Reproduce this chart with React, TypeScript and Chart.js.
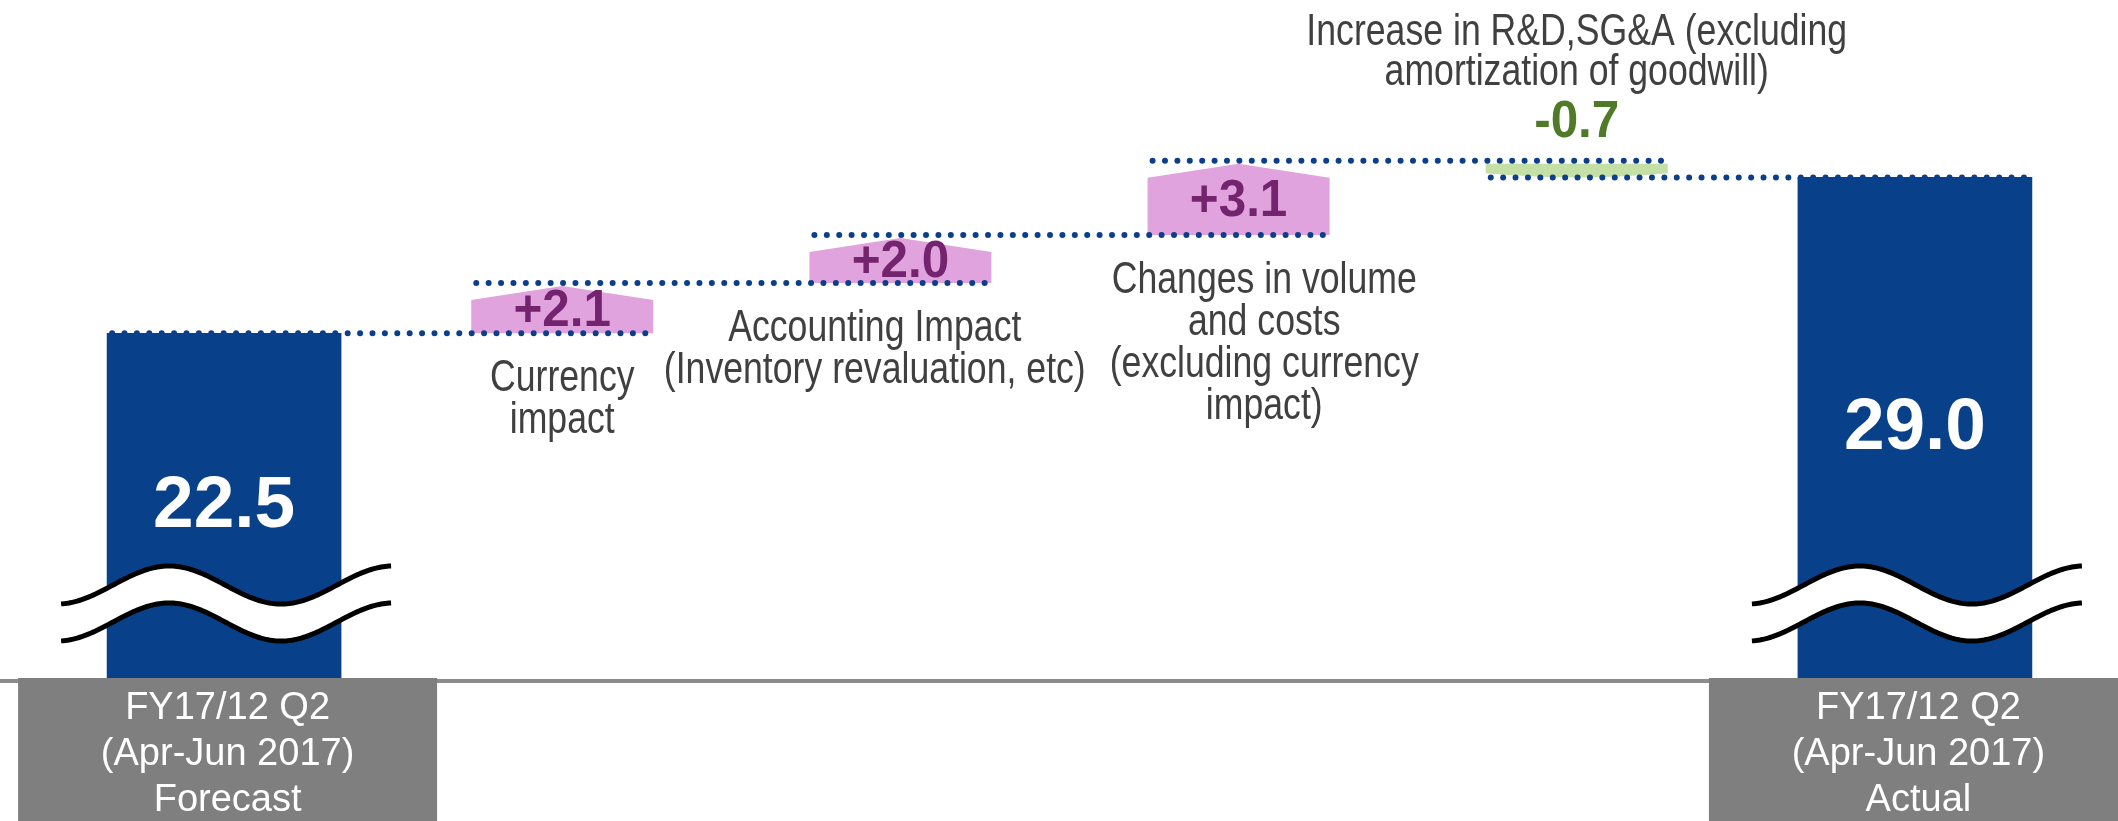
import React, { useEffect, useRef } from "react";
import { Chart, registerables } from "chart.js";

Chart.register(...registerables);

// ---------- data ----------
const categoryLabels: string[][] = [
  ["FY17/12 Q2", "(Apr-Jun 2017)", "Forecast"],
  ["Currency", "impact"],
  ["Accounting Impact", "(Inventory revaluation, etc)"],
  ["Changes in volume", "and costs", "(excluding currency", "impact)"],
  ["Increase in R&D,SG&A (excluding", "amortization of goodwill)"],
  ["FY17/12 Q2", "(Apr-Jun 2017)", "Actual"],
];
const totalValues: (number | null)[] = [22.5, null, null, null, null, 29.0];
const changeValues: number[] = [2.1, 2.0, 3.1, -0.7];
const totalLabels: string[] = ["22.5", "29.0"];
const changeLabels: string[] = ["+2.1", "+2.0", "+3.1", "-0.7"];

// ---------- derived floating ranges ----------
const stepRanges: ([number, number] | null)[] = [null];
{
  let run = totalValues[0] as number;
  for (const c of changeValues) {
    const next = Math.round((run + c) * 10) / 10;
    stepRanges.push([run, next]);
    run = next;
  }
  stepRanges.push(null);
}

// ---------- styles ----------
const NAVY = "#08418a";
const DOT = "#0b3f8c";
const PINK = "#e0a3dd";
const PURPLE = "#74236f";
const GREEN_BOX = "#c4e0a6";
const GREEN_TEXT = "#4f7a28";
const BOX_GRAY = "#7f7f7f";
const LABEL = "#404040";
const FONT = "'Liberation Sans', Arial, sans-serif";
const NARROW = 0.81;

function narrowText(ctx: CanvasRenderingContext2D, text: string, x: number, y: number, sx: number) {
  ctx.save();
  ctx.translate(x, y);
  ctx.scale(sx, 1);
  ctx.fillText(text, 0, 0);
  ctx.restore();
}

const decorPlugin = {
  id: "waterfallDecor",
  afterDatasetsDraw(chart: any) {
    const ctx: CanvasRenderingContext2D = chart.ctx;
    const area = chart.chartArea;
    const yScale = chart.scales.y;
    const totalsMeta = chart.getDatasetMeta(0);
    const stepsMeta = chart.getDatasetMeta(1);
    const W = chart.width;
    const H = chart.height;
    const axisY = area.bottom;

    ctx.save();

    // axis line
    ctx.strokeStyle = "#8c8c8c";
    ctx.lineWidth = 4;
    ctx.beginPath();
    ctx.moveTo(0, axisY);
    ctx.lineTo(W, axisY);
    ctx.stroke();

    // step shapes
    const shapeInfo: any[] = [];
    for (let i = 0; i < stepRanges.length; i++) {
      const r = stepRanges[i];
      if (!r) continue;
      const el = stepsMeta.data[i];
      const ys = yScale.getPixelForValue(r[0]);
      const ye = yScale.getPixelForValue(r[1]);
      const left = el.x - el.width / 2;
      const right = el.x + el.width / 2;
      ctx.beginPath();
      if (r[1] >= r[0]) {
        const peak = ye + 3;
        const shoulder = Math.min(peak + 14, ys - 4);
        ctx.moveTo(left, ys);
        ctx.lineTo(left, shoulder);
        ctx.lineTo(el.x, peak);
        ctx.lineTo(right, shoulder);
        ctx.lineTo(right, ys);
        ctx.closePath();
        ctx.fillStyle = PINK;
        ctx.fill();
        shapeInfo.push({ i, up: true, x: el.x, top: peak, bottom: ys });
      } else {
        const top = ys + 3;
        const bottom = ye;
        const side = bottom - Math.max(4, (bottom - top) * 0.3);
        ctx.moveTo(left, top);
        ctx.lineTo(right, top);
        ctx.lineTo(right, side);
        ctx.quadraticCurveTo(el.x, 2 * bottom - side, left, side);
        ctx.closePath();
        ctx.fillStyle = GREEN_BOX;
        ctx.fill();
        shapeInfo.push({ i, up: false, x: el.x, top, bottom });
      }
    }

    // dotted connector lines
    const seq: any[] = [];
    for (let i = 0; i < categoryLabels.length; i++) {
      seq.push(totalValues[i] !== null ? totalsMeta.data[i] : stepsMeta.data[i]);
    }
    const levels: number[] = [];
    for (let i = 1; i < stepRanges.length; i++) {
      const r = stepRanges[i];
      levels.push(r ? r[0] : (stepRanges[i - 1] as [number, number])[1]);
    }
    ctx.strokeStyle = DOT;
    ctx.lineWidth = 6;
    ctx.lineCap = "round";
    ctx.setLineDash([0, 12.4]);
    for (let k = 0; k < levels.length; k++) {
      const a = seq[k];
      const b = seq[k + 1];
      const y = yScale.getPixelForValue(levels[k]);
      ctx.beginPath();
      ctx.moveTo(a.x - a.width / 2 + 5, y);
      ctx.lineTo(b.x + b.width / 2, y);
      ctx.stroke();
    }
    ctx.setLineDash([]);

    // break marks on total bars
    const totalIdx: number[] = [];
    totalValues.forEach((v, i) => { if (v !== null) totalIdx.push(i); });
    for (const i of totalIdx) {
      const el = totalsMeta.data[i];
      const cx = el.x;
      const yc = axisY - 96;
      const A = 19;
      const gap = 37;
      const pts: [number, number][] = [];
      for (let xp = -163; xp <= 167; xp += 2) {
        pts.push([cx + xp, yc + A * Math.cos((Math.PI * (xp + 167)) / 112)]);
      }
      ctx.beginPath();
      pts.forEach((p, j) => (j ? ctx.lineTo(p[0], p[1]) : ctx.moveTo(p[0], p[1])));
      for (let j = pts.length - 1; j >= 0; j--) ctx.lineTo(pts[j][0], pts[j][1] + gap);
      ctx.closePath();
      ctx.fillStyle = "#ffffff";
      ctx.fill();
      ctx.strokeStyle = "#000000";
      ctx.lineWidth = 5;
      ctx.lineCap = "butt";
      for (const off of [0, gap]) {
        ctx.beginPath();
        pts.forEach((p, j) => (j ? ctx.lineTo(p[0], p[1] + off) : ctx.moveTo(p[0], p[1] + off)));
        ctx.stroke();
      }
    }

    // gray category boxes under totals
    for (const i of totalIdx) {
      const el = totalsMeta.data[i];
      const top = axisY - 3;
      const bw = 419;
      const bl = el.x - 206;
      ctx.fillStyle = BOX_GRAY;
      ctx.fillRect(bl, top, bw, H - top);
      ctx.fillStyle = "#ffffff";
      ctx.font = `38px ${FONT}`;
      ctx.textAlign = "center";
      ctx.textBaseline = "middle";
      categoryLabels[i].forEach((line, j) => {
        ctx.fillText(line, bl + bw / 2, top + 31 + j * 46);
      });
    }

    // total value labels
    totalIdx.forEach((i, k) => {
      const el = totalsMeta.data[i];
      ctx.fillStyle = "#ffffff";
      ctx.font = `bold 73px ${FONT}`;
      ctx.textAlign = "center";
      ctx.textBaseline = "middle";
      ctx.fillText(totalLabels[k], el.x, (el.y + axisY) / 2);
    });

    // step value labels
    ctx.textAlign = "center";
    ctx.textBaseline = "middle";
    shapeInfo.forEach((s, k) => {
      ctx.font = `bold 52px ${FONT}`;
      if (s.up) {
        ctx.fillStyle = PURPLE;
        narrowText(ctx, changeLabels[k], s.x, (s.top + s.bottom) / 2 + 2, 0.95);
      } else {
        ctx.fillStyle = GREEN_TEXT;
        narrowText(ctx, changeLabels[k], s.x, s.top - 41, 0.95);
      }
    });

    // category labels for steps, with simple horizontal collision avoidance
    ctx.font = `44px ${FONT}`;
    const blocks = shapeInfo.map((s) => {
      const lines = categoryLabels[s.i];
      const n = lines.length;
      return {
        cx: s.x,
        up: s.up,
        lines: lines.map((t, j) => ({
          text: t,
          y: s.up ? s.bottom + 46 + j * 42 : s.top - 91 - (n - 1 - j) * 40,
          w: ctx.measureText(t).width * NARROW,
        })),
      };
    });
    const margin = 24;
    for (let k = 0; k < blocks.length - 1; k++) {
      const A = blocks[k];
      const B = blocks[k + 1];
      let ov = 0;
      for (const la of A.lines) {
        for (const lb of B.lines) {
          if (Math.abs(la.y - lb.y) < 38) {
            ov = Math.max(ov, A.cx + la.w / 2 + margin - (B.cx - lb.w / 2));
          }
        }
      }
      if (ov > 0) {
        A.cx -= ov / 2;
        B.cx += ov / 2;
      }
    }
    ctx.fillStyle = LABEL;
    for (const b of blocks) {
      for (const l of b.lines) narrowText(ctx, l.text, b.cx, l.y, NARROW);
    }

    ctx.restore();
  },
};

export default function App() {
  const ref = useRef<HTMLCanvasElement | null>(null);

  useEffect(() => {
    document.body.style.margin = "0";
    const canvas = ref.current;
    if (!canvas) return;
    const chart = new Chart(canvas, {
      type: "bar",
      data: {
        labels: categoryLabels.map((l) => l.join(" ")),
        datasets: [
          {
            label: "Total",
            data: totalValues as any,
            backgroundColor: NAVY,
            barThickness: 234,
            grouped: false,
          } as any,
          {
            label: "Change",
            data: stepRanges as any,
            backgroundColor: "rgba(0,0,0,0)",
            barThickness: 182,
            grouped: false,
          } as any,
        ],
      },
      options: {
        responsive: false,
        devicePixelRatio: 1,
        animation: false,
        layout: { padding: { left: 55, right: 34, top: 0, bottom: 140 } },
        plugins: {
          legend: { display: false },
          tooltip: { enabled: false },
        },
        scales: {
          x: { display: false, offset: true },
          y: { display: false, min: 8, max: 36.4 },
        },
      },
      plugins: [decorPlugin],
    });
    return () => chart.destroy();
  }, []);

  return (
    <div style={{ width: 2118, height: 821, background: "#ffffff" }}>
      <canvas ref={ref} width={2118} height={821} style={{ display: "block" }} />
    </div>
  );
}
